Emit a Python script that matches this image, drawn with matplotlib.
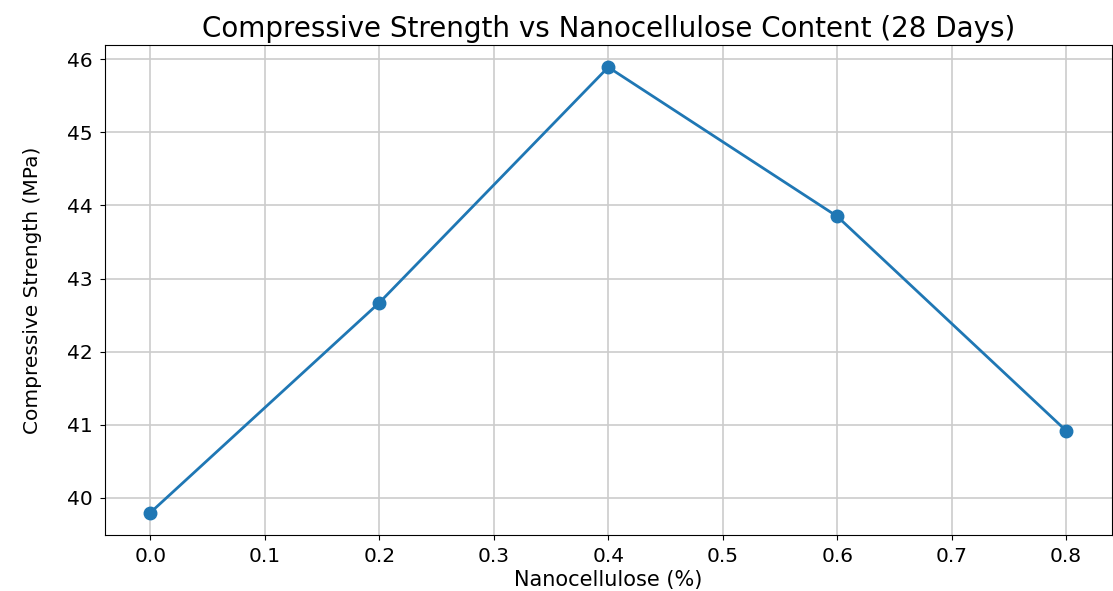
import matplotlib
matplotlib.use("Agg")
import matplotlib.pyplot as plt

# Nanocellulose content (%) and 28-day compressive strength (MPa)
nanocellulose = [0.0, 0.2, 0.4, 0.6, 0.8]
strength = [39.80, 42.67, 45.89, 43.85, 40.92]

fig = plt.figure(figsize=(11.13, 5.91), dpi=100)
ax = fig.add_axes([0.094, 0.095, 0.905, 0.829])

ax.plot(nanocellulose, strength, marker="o", color="tab:blue", lw=2, ms=9)

ax.set_title("Compressive Strength vs Nanocellulose Content (28 Days)", fontsize=20)
ax.set_xlabel("Nanocellulose (%)", fontsize=15, labelpad=3)
ax.set_ylabel("Compressive Strength (MPa)", fontsize=14.5, labelpad=18)
ax.tick_params(labelsize=14.5, pad=5)
ax.grid(True, color="#cccccc", lw=1.2)

fig.savefig("out.png", dpi=100)
